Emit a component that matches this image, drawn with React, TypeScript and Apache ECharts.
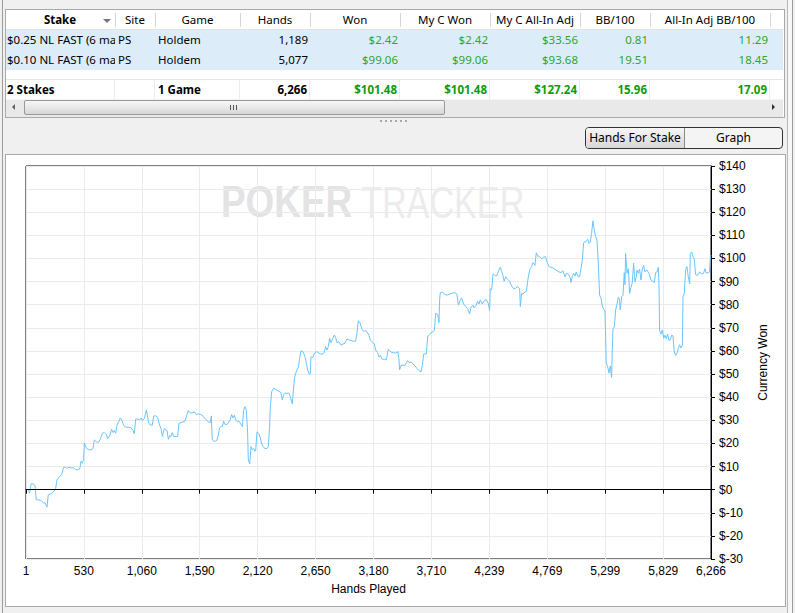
import React, { useEffect, useRef } from "react";
import * as echarts from "echarts";

// ---------- table data ----------
const tableColumns = ["Stake", "Site", "Game", "Hands", "Won", "My C Won", "My C All-In Adj", "BB/100", "All-In Adj BB/100"];
const stakeRow1 = ["$0.25 NL FAST (6 ma", "PS", "Holdem", "1,189", "$2.42", "$2.42", "$33.56", "0.81", "11.29"];
const stakeRow2 = ["$0.10 NL FAST (6 ma", "PS", "Holdem", "5,077", "$99.06", "$99.06", "$93.68", "19.51", "18.45"];
const totalsRow = ["2 Stakes", "", "1 Game", "6,266", "$101.48", "$101.48", "$127.24", "15.96", "17.09"];
const toggleButtons = ["Hands For Stake", "Graph"];

// ---------- chart data ----------
const xTickValues = [1, 530, 1060, 1590, 2120, 2650, 3180, 3710, 4239, 4769, 5299, 5829, 6266];
const yMin = -30;
const yMax = 140;
const yStep = 10;
const xAxisName = "Hands Played";
const yAxisName = "Currency Won";

const wonSegment1: [number, number][] = [
  [1, 0], [25, 0], [34, -1.5], [47, 2.5], [65, 2.5], [83, 1.9], [95, -4.4], [117, -4.4], [138, -4.7], [150, -5.3],
  [162, -5.8], [175, -5.6], [187, -7.0], [193, -7.6], [205, -2.2], [230, -1.8], [254, -0.9], [272, 0.5], [284, 4.2],
  [309, 5.7], [327, 6.5], [345, 9.7], [364, 9.7], [376, 9.1], [394, 9.7], [412, 9.4], [437, 9.4], [455, 8.6],
  [473, 8.6], [492, 8.9], [504, 12.3], [516, 11.4], [528, 12.9], [534, 20.1], [553, 18.1], [571, 17.2], [595, 17.2],
  [614, 17.8], [626, 21.5], [644, 20.7], [662, 20.4], [681, 21.8], [699, 24.4], [717, 24.7], [736, 23.8], [748, 22.1],
  [766, 23.3], [784, 26.1], [797, 24.7], [809, 25.6], [821, 24.4], [833, 27.9], [851, 29.6], [864, 31.0], [876, 30.2],
  [894, 27.9], [912, 27.0], [943, 27.0], [961, 26.7], [980, 25.6], [992, 24.1],
];
const wonSegment2: [number, number][] = [
  [1004, 30.5], [1022, 30.5], [1041, 30.2], [1053, 31.0], [1065, 29.9], [1083, 30.7], [1102, 34.5], [1114, 31.3],
  [1126, 28.5], [1144, 27.9], [1156, 27.9], [1169, 31.9], [1187, 31.9], [1205, 31.3], [1223, 27.9], [1236, 26.4],
  [1248, 23.0], [1266, 26.4], [1278, 25.9], [1291, 25.6], [1303, 21.8], [1315, 23.3], [1327, 23.0], [1339, 24.7],
  [1352, 23.0], [1370, 23.0], [1388, 23.0], [1400, 28.7], [1419, 29.0], [1437, 29.3], [1455, 29.6], [1474, 32.5],
  [1486, 34.2], [1504, 33.1], [1522, 33.3], [1541, 33.6], [1559, 32.5], [1577, 32.8], [1595, 32.5], [1614, 32.2],
  [1632, 31.0], [1650, 30.2], [1669, 29.3], [1687, 29.0], [1696, 31.9], [1705, 21.5], [1717, 21.0], [1736, 21.0],
  [1748, 21.5], [1760, 23.6], [1772, 26.7], [1785, 27.3], [1797, 27.3], [1809, 29.6], [1821, 28.2], [1839, 28.2],
  [1858, 29.3], [1870, 30.5], [1882, 32.5], [1894, 31.0], [1907, 32.2], [1919, 30.2], [1931, 29.6], [1949, 29.6],
  [1967, 28.2], [1980, 27.3], [1992, 34.5], [2004, 35.9], [2016, 34.5], [2028, 24.4], [2034, 12.9], [2047, 11.2],
  [2059, 18.6], [2071, 17.2], [2083, 17.8], [2095, 16.6], [2102, 17.2], [2114, 25.0], [2132, 24.1], [2144, 22.4],
  [2156, 20.1], [2169, 18.6], [2187, 17.8], [2205, 17.8], [2217, 18.6], [2229, 27.3], [2236, 35.9], [2248, 42.4],
];
const wonSegment3: [number, number][] = [
  [2266, 43.9], [2290, 43.1], [2315, 42.5], [2333, 42.0], [2345, 38.8], [2357, 41.0], [2370, 41.7], [2406, 41.7],
  [2418, 40.2], [2437, 37.1], [2443, 41.0], [2455, 47.7], [2467, 50.3], [2479, 51.8], [2492, 52.9], [2504, 56.8],
  [2516, 60.1], [2534, 59.7], [2552, 57.6], [2565, 54.7], [2577, 51.8], [2589, 50.1], [2601, 50.1], [2607, 57.3],
  [2626, 57.3], [2638, 59.0], [2656, 59.7], [2674, 59.3], [2693, 58.7], [2717, 58.7], [2729, 59.3], [2741, 61.9],
  [2754, 60.4], [2766, 61.9], [2778, 65.5], [2790, 63.6], [2802, 64.8], [2821, 66.9], [2833, 65.9], [2845, 63.6],
  [2863, 64.0], [2882, 62.5], [2900, 63.0], [2918, 63.3], [2937, 65.1], [2955, 64.8], [2973, 64.5], [2998, 64.2],
  [3016, 64.2], [3028, 67.6], [3040, 73.1], [3053, 72.5], [3065, 70.8], [3077, 69.1], [3089, 68.4], [3101, 68.8],
  [3120, 68.2], [3138, 66.8], [3150, 64.8], [3168, 63.9], [3187, 63.0], [3199, 60.4], [3217, 59.3], [3229, 57.3],
  [3242, 58.1], [3260, 56.4], [3278, 56.4], [3296, 56.1], [3315, 60.7], [3327, 60.1], [3345, 59.3], [3364, 59.3],
  [3382, 59.0], [3400, 59.7], [3412, 56.8], [3418, 51.8], [3431, 53.8], [3449, 53.8], [3467, 53.8], [3479, 54.7],
  [3492, 55.8], [3504, 55.0], [3522, 55.2], [3540, 54.4], [3559, 53.5], [3577, 52.4], [3595, 51.5], [3614, 50.9],
  [3626, 53.8], [3638, 58.7], [3662, 58.7], [3675, 66.2], [3693, 67.1], [3705, 67.9], [3723, 68.2], [3736, 69.1],
  [3748, 76.3], [3766, 75.7], [3778, 72.2], [3784, 82.0],
];
const wonSegment4: [number, number][] = [
  [3790, 85.2], [3808, 85.5], [3827, 84.6], [3851, 84.1], [3875, 84.6], [3900, 85.0], [3924, 85.2], [3942, 84.6],
  [3955, 79.8], [3973, 82.1], [3985, 82.9], [4003, 80.3], [4022, 79.2], [4040, 78.3], [4058, 76.0], [4071, 78.9],
  [4089, 79.8], [4101, 78.6], [4119, 79.8], [4131, 81.5], [4144, 80.3], [4156, 82.1], [4174, 80.3], [4192, 81.8],
  [4211, 82.1], [4229, 80.6], [4241, 77.5], [4247, 86.9], [4260, 86.4], [4272, 93.3], [4284, 93.0], [4296, 92.4],
  [4308, 92.7], [4327, 95.0], [4339, 96.2], [4351, 94.4], [4363, 92.7], [4375, 90.1], [4388, 92.1], [4406, 91.0],
  [4424, 90.1], [4442, 88.1], [4461, 86.9], [4479, 87.2], [4497, 87.8], [4516, 86.9], [4522, 79.2], [4534, 84.9],
  [4546, 84.6], [4564, 85.5], [4577, 85.8], [4589, 90.1], [4601, 93.6], [4613, 95.6], [4625, 96.5], [4638, 98.2],
  [4656, 97.0], [4668, 102.5], [4680, 101.1], [4699, 100.8], [4717, 99.9], [4735, 100.5], [4753, 100.8], [4766, 98.5],
  [4784, 96.5], [4802, 96.2], [4821, 95.9], [4839, 95.3], [4857, 94.7], [4875, 94.2], [4894, 93.9], [4912, 94.7],
  [4930, 92.1], [4943, 93.6], [4961, 93.3], [4979, 91.6], [4985, 89.6], [4997, 92.1], [5010, 93.6], [5022, 92.4],
  [5034, 94.2], [5046, 92.4], [5064, 92.1], [5077, 95.6],
];
const wonSegment5: [number, number][] = [
  [5089, 99.1], [5101, 106.8], [5113, 107.1], [5125, 107.4], [5138, 108.3], [5150, 106.5], [5162, 107.1], [5174, 110.9],
  [5186, 116.3], [5199, 112.0], [5211, 109.4], [5223, 108.0], [5235, 97.9], [5247, 84.2], [5260, 82.8], [5272, 79.5],
  [5284, 78.0], [5296, 77.2], [5302, 66.2], [5308, 54.9], [5321, 53.2], [5333, 50.4], [5345, 53.5], [5357, 48.6],
  [5363, 60.4], [5369, 69.4], [5382, 70.5], [5394, 77.7], [5406, 80.3], [5418, 83.2], [5430, 82.1], [5436, 77.7],
  [5449, 83.5], [5461, 84.1], [5473, 93.9], [5479, 88.7], [5485, 102.2], [5498, 93.6], [5510, 95.6], [5522, 84.9],
  [5534, 87.5], [5546, 89.5], [5558, 97.9], [5571, 89.8], [5583, 92.1], [5589, 95.0], [5601, 93.6], [5613, 95.3],
  [5625, 90.7], [5638, 95.6], [5650, 97.0], [5662, 94.2], [5680, 95.0], [5698, 93.6], [5717, 90.7], [5735, 90.1],
  [5747, 89.5], [5760, 93.9], [5772, 94.2], [5784, 96.2], [5790, 89.3], [5796, 68.8], [5808, 67.3], [5821, 69.1],
  [5833, 65.5], [5845, 66.8], [5857, 65.3], [5869, 67.3], [5882, 64.5], [5894, 64.8], [5906, 66.8], [5918, 66.5],
  [5930, 59.6], [5943, 58.1], [5955, 59.0], [5967, 61.0], [5979, 62.7], [5991, 61.3], [6004, 62.5], [6010, 83.5],
  [6022, 84.9], [6034, 95.3], [6046, 96.5], [6058, 92.1], [6071, 89.0], [6077, 102.2], [6089, 102.8], [6101, 100.8],
  [6113, 99.9], [6125, 93.0], [6144, 92.7], [6162, 94.2], [6180, 93.3], [6198, 93.6], [6211, 95.6], [6223, 93.6],
  [6241, 93.9], [6253, 94.2], [6260, 100.8], [6266, 101.48],
];

// ---------- layout ----------
const colEdges = [5, 115, 155, 240, 310, 400, 490, 580, 650, 770, 783];
const colAlign = ["left", "left", "left", "right", "right", "right", "right", "right", "right"];
const UI_FONT = '"Noto Sans", "Open Sans", sans-serif';
const AXIS_FONT = '"Liberation Sans", Arial, sans-serif';
const GREEN = "#2fa52f";
const GREEN_BOLD = "#0e9c0e";

const abs = (left: number, top: number, width: number, height: number): React.CSSProperties => ({
  position: "absolute",
  left,
  top,
  width,
  height,
  boxSizing: "border-box",
});

function Row({ cells, top, height, bold, bg, sep }: { cells: string[]; top: number; height: number; bold?: boolean; bg?: string; sep?: boolean }) {
  return (
    <>
      <div style={{ ...abs(6, top, 777, height), background: bg || "#fff" }} />
      {cells.map((c, i) => {
        const x0 = colEdges[i];
        const x1 = colEdges[i + 1];
        const isNum = i >= 4;
        const color = isNum ? (bold ? GREEN_BOLD : GREEN) : "#000";
        const padL = i === 0 ? 2 : 3;
        return (
          <div
            key={i}
            style={{
              ...abs(x0, top, x1 - x0, height),
              textAlign: colAlign[i] as any,
              paddingLeft: colAlign[i] === "left" ? padL : 0,
              paddingRight: colAlign[i] === "right" ? 2 : 0,
              lineHeight: height + "px",
              whiteSpace: "nowrap",
              overflow: "hidden",
              fontWeight: bold ? 700 : 400,
              color,
              borderRight: sep ? "1px solid #ececec" : undefined,
            }}
          >
            {c}
          </div>
        );
      })}
    </>
  );
}

export default function App() {
  const ref = useRef<HTMLDivElement>(null);

  useEffect(() => {
    if (!ref.current) return;
    const chart = echarts.init(ref.current, null, { renderer: "svg" });
    const lineData = [...wonSegment1, ...wonSegment2, ...wonSegment3, ...wonSegment4, ...wonSegment5];
    const axisText = { color: "#000", fontSize: 12, fontFamily: AXIS_FONT };
    chart.setOption({
      animation: false,
      backgroundColor: "#fff",
      grid: {
        left: 20,
        right: 74,
        top: 11,
        bottom: 45,
        show: true,
        borderColor: "#000",
        borderWidth: 1,
        backgroundColor: "transparent",
      },
      graphic: [
        {
          type: "text",
          x: 215,
          y: 47,
          scaleX: 0.82,
          z: -1,
          silent: true,
          style: {
            text: "POKER",
            fontFamily: AXIS_FONT,
            fontWeight: "bold",
            fontSize: 45,
            fill: "#e3e3e3",
            verticalAlign: "middle",
          },
        },
        {
          type: "text",
          x: 355,
          y: 47,
          scaleX: 0.76,
          z: -1,
          silent: true,
          style: {
            text: "TRACKER",
            fontFamily: AXIS_FONT,
            fontSize: 45,
            fill: "#ececec",
            verticalAlign: "middle",
          },
        },
      ],
      xAxis: {
        type: "value",
        min: xTickValues[0],
        max: xTickValues[xTickValues.length - 1],
        name: xAxisName,
        nameLocation: "middle",
        nameGap: 24,
        nameTextStyle: axisText,
        axisLine: { show: true, lineStyle: { color: "#000", width: 1 } },
        axisTick: { show: true, length: 4, customValues: xTickValues, lineStyle: { color: "#000" } },
        axisLabel: {
          ...axisText,
          margin: 6,
          customValues: xTickValues,
          formatter: (v: number) => Math.round(v).toLocaleString("en-US"),
        },
        splitLine: { show: true, lineStyle: { color: "#ebebeb", width: 1 } },
      },
      yAxis: {
        type: "value",
        position: "right",
        min: yMin,
        max: yMax,
        interval: yStep,
        name: yAxisName,
        nameLocation: "middle",
        nameRotate: 90,
        nameGap: 43,
        nameTextStyle: axisText,
        axisLine: { show: true, lineStyle: { color: "#000", width: 1 } },
        axisTick: { show: true, length: 4, lineStyle: { color: "#000" } },
        axisLabel: { ...axisText, margin: 8, formatter: (v: number) => "$" + v },
        splitLine: { show: true, lineStyle: { color: "#ebebeb", width: 1 } },
      },
      series: [
        {
          type: "line",
          data: lineData,
          showSymbol: false,
          symbol: "none",
          silent: true,
          lineStyle: { color: "#6cc4ff", width: 1 },
          markLine: {
            silent: true,
            symbol: ["none", "none"],
            label: { show: false },
            lineStyle: { color: "#000", width: 1, type: "solid" },
            data: [{ yAxis: 0 }],
          },
        },
      ],
    });
    return () => chart.dispose();
  }, []);

  const headerSeps = colEdges.slice(1, 10);

  return (
    <div
      style={{
        position: "fixed",
        left: 0,
        top: 0,
        width: 795,
        height: 613,
        background: "#f0f0f0",
        overflow: "hidden",
        fontFamily: UI_FONT,
        fontSize: 11.5,
        color: "#000",
      }}
    >
      {/* outer frame lines */}
      <div style={{ ...abs(2, 0, 1, 613), background: "#9c9c9c" }} />
      <div style={{ ...abs(787, 0, 1, 613), background: "#b8b8b8" }} />
      <div style={{ ...abs(788, 0, 4, 613), background: "#f7f7f7" }} />
      <div style={{ ...abs(792, 0, 1, 613), background: "#9c9c9c" }} />

      {/* table frame */}
      <div style={{ ...abs(5, 9, 780, 109), border: "1px solid #a9a9a9", background: "#fff" }} />

      {/* header */}
      <div style={{ ...abs(6, 10, 777, 20), background: "#fff", borderBottom: "1px solid #e3e3e3" }} />
      {tableColumns.map((c, i) => (
        <div
          key={c}
          style={{
            ...abs(colEdges[i], 10, colEdges[i + 1] - colEdges[i], 19),
            textAlign: "center",
            lineHeight: "19px",
            fontWeight: i === 0 ? 700 : 400,
            whiteSpace: "nowrap",
            overflow: "hidden",
          }}
        >
          {c}
        </div>
      ))}
      {headerSeps.map((x) => (
        <div key={x} style={{ ...abs(x, 13, 1, 14), background: "#d5d5d5" }} />
      ))}
      {/* sort arrow */}
      <div
        style={{
          position: "absolute",
          left: 103,
          top: 19,
          width: 0,
          height: 0,
          borderLeft: "4px solid transparent",
          borderRight: "4px solid transparent",
          borderTop: "4px solid #777",
        }}
      />

      {/* rows */}
      <Row cells={stakeRow1} top={30} height={20} bg="#dcedf9" />
      <Row cells={stakeRow2} top={50} height={20} bg="#dcedf9" />
      <div style={{ ...abs(6, 79, 777, 1), background: "#e6e6e6" }} />
      <Row cells={totalsRow} top={80} height={19} bold sep />

      {/* scrollbar */}
      <div style={{ ...abs(6, 99, 777, 18), background: "#e9e9e9", borderTop: "1px solid #f4f4f4" }} />
      <div
        style={{
          position: "absolute",
          left: 12,
          top: 104,
          width: 0,
          height: 0,
          borderTop: "3px solid transparent",
          borderBottom: "3px solid transparent",
          borderRight: "3px solid #606060",
        }}
      />
      <div
        style={{
          ...abs(24, 100, 421, 15),
          border: "1px solid #9a9a9a",
          borderRadius: 2,
          background: "linear-gradient(#f6f6f6, #e8e8e8 50%, #d6d6d6)",
        }}
      />
      {[230, 233, 236].map((x) => (
        <div key={x} style={{ ...abs(x, 105, 1, 5), background: "#555" }} />
      ))}
      <div
        style={{
          position: "absolute",
          left: 772,
          top: 104,
          width: 0,
          height: 0,
          borderTop: "3px solid transparent",
          borderBottom: "3px solid transparent",
          borderLeft: "3px solid #303030",
        }}
      />

      {/* splitter dots */}
      {[380, 385, 390, 395, 400, 405].map((x) => (
        <div key={x} style={{ ...abs(x, 120, 2, 2), background: "#a8a8a8" }} />
      ))}

      {/* toggle buttons */}
      <div style={{ ...abs(585, 127, 198, 22), border: "1px solid #333", borderRadius: 4, overflow: "hidden", background: "#f4f4f4" }}>
        <div
          style={{
            position: "absolute",
            left: 0,
            top: 0,
            width: 98,
            height: 20,
            background: "linear-gradient(#f7f7f7, #e6e6e6 50%, #d7d7d7)",
            borderRight: "1px solid #8a8a8a",
            textAlign: "center",
            lineHeight: "20px",
            fontSize: 12,
          }}
        >
          {toggleButtons[0]}
        </div>
        <div
          style={{
            position: "absolute",
            left: 99,
            top: 0,
            width: 97,
            height: 20,
            textAlign: "center",
            lineHeight: "20px",
            fontSize: 12,
          }}
        >
          {toggleButtons[1]}
        </div>
      </div>

      {/* chart panel */}
      <div style={{ ...abs(5, 154, 781, 453), border: "1px solid #a9a9a9", background: "#fff" }} />
      <div ref={ref} style={{ position: "absolute", left: 6, top: 155, width: 779, height: 449 }} />
    </div>
  );
}
